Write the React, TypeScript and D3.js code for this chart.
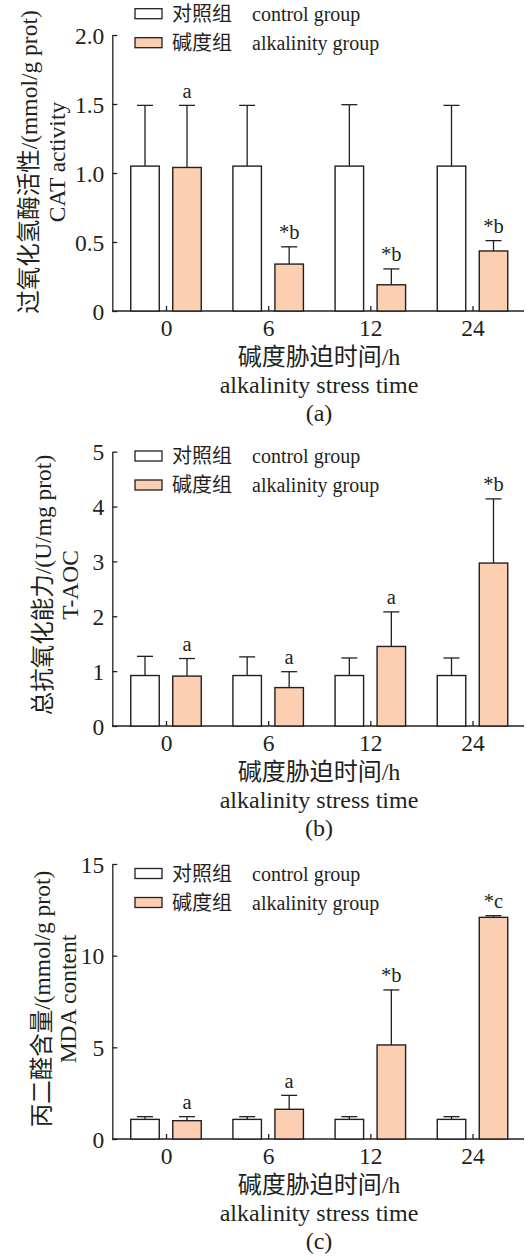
import React, { useEffect, useRef } from 'react';
import * as d3 from 'd3';

const times = ['0', '6', '12', '24'];

const catControl = [1.05, 1.05, 1.05, 1.05];
const catControlErr = [1.49, 1.49, 1.495, 1.49];
const catAlk = [1.04, 0.34, 0.19, 0.435];
const catAlkErr = [1.49, 0.465, 0.305, 0.51];
const catMarks = ['a', '*b', '*b', '*b'];
const catTicks = [0, 0.5, 1, 1.5, 2];

const aocControl = [0.92, 0.92, 0.92, 0.92];
const aocControlErr = [1.27, 1.26, 1.24, 1.24];
const aocAlk = [0.91, 0.7, 1.45, 2.97];
const aocAlkErr = [1.23, 0.99, 2.08, 4.14];
const aocMarks = ['a', 'a', 'a', '*b'];
const aocTicks = [0, 1, 2, 3, 4, 5];

const mdaControl = [1.07, 1.07, 1.07, 1.07];
const mdaControlErr = [1.22, 1.22, 1.22, 1.22];
const mdaAlk = [1.0, 1.62, 5.13, 12.09];
const mdaAlkErr = [1.22, 2.38, 8.13, 12.18];
const mdaMarks = ['a', 'a', '*b', '*c'];
const mdaTicks = [0, 5, 10, 15];

const FONT = '"Liberation Serif", "Times New Roman", "Noto Sans CJK SC", serif';
const INK = '#231f20';
const PEACH = '#fccfb3';

const panels = [
  {
    bottom: 311, top: 35, max: 2, ticks: catTicks, fmt: (d: number) => (d === 0 ? '0' : d.toFixed(1)),
    control: catControl, controlErr: catControlErr, alk: catAlk, alkErr: catAlkErr, marks: catMarks,
    legendDy: -21.3, label1: '过氧化氢酶活性/(mmol/g prot)', label2: 'CAT activity', lx1: 37, lx2: 65, ly: 162,
    tag: '(a)',
  },
  {
    bottom: 726, top: 451.7, max: 5, ticks: aocTicks, fmt: (d: number) => String(d),
    control: aocControl, controlErr: aocControlErr, alk: aocAlk, alkErr: aocAlkErr, marks: aocMarks,
    legendDy: 4.3, label1: '总抗氧化能力/(U/mg prot)', label2: 'T-AOC', lx1: 51, lx2: 78, ly: 585,
    tag: '(b)',
  },
  {
    bottom: 1139, top: 864, max: 15, ticks: mdaTicks, fmt: (d: number) => String(d),
    control: mdaControl, controlErr: mdaControlErr, alk: mdaAlk, alkErr: mdaAlkErr, marks: mdaMarks,
    legendDy: 9.5, label1: '丙二醛含量/(mmol/g prot)', label2: 'MDA content', lx1: 50, lx2: 76, ly: 999,
    tag: '(c)',
  },
];

const App: React.FC = () => {
  const svgRef = useRef<SVGSVGElement>(null);

  useEffect(() => {
    if (!svgRef.current) return;
    const svg = d3.select(svgRef.current);
    svg.selectAll('*').remove();

    const axisX = 112.3;
    const axisEnd = 524;
    const x = d3.scalePoint<string>().domain(times).range([166, 472.5]);
    const barW = 28.5;
    const off = 21;
    const cap = 8;

    panels.forEach((p) => {
      const g = svg.append('g');
      const y = d3.scaleLinear().domain([0, p.max]).range([p.bottom, p.top]);

      // y axis
      const ya = g.append('g')
        .attr('transform', `translate(${axisX},0)`)
        .call(d3.axisLeft(y).tickValues(p.ticks).tickFormat((d) => p.fmt(d as number)).tickSizeInner(-5).tickSizeOuter(0).tickPadding(8));
      ya.attr('font-family', FONT).attr('font-size', 23.5);
      ya.selectAll('path, line').attr('stroke', INK).attr('stroke-width', 1.3);
      ya.selectAll('text').attr('fill', INK).attr('dy', '0.35em');

      // x axis
      const xa = g.append('g')
        .attr('transform', `translate(0,${p.bottom})`)
        .call(d3.axisBottom(x).tickSizeInner(-5).tickSizeOuter(0));
      xa.select('.domain').remove();
      xa.attr('font-family', FONT).attr('font-size', 23.5);
      xa.selectAll('line').attr('stroke', INK).attr('stroke-width', 1.3);
      xa.selectAll('text').attr('fill', INK).attr('y', 25).attr('dy', 0);
      g.append('line')
        .attr('x1', axisX).attr('x2', axisEnd)
        .attr('y1', p.bottom).attr('y2', p.bottom)
        .attr('stroke', INK).attr('stroke-width', 1.3);

      const series = [
        { vals: p.control, errs: p.controlErr, dx: -off, fill: '#ffffff' },
        { vals: p.alk, errs: p.alkErr, dx: off, fill: PEACH },
      ];

      series.forEach((s) => {
        // error bars (upper only)
        const eb = g.append('g').attr('stroke', INK).attr('stroke-width', 1.3);
        times.forEach((t, i) => {
          const cx = (x(t) as number) + s.dx;
          eb.append('line').attr('x1', cx).attr('x2', cx).attr('y1', y(s.vals[i])).attr('y2', y(s.errs[i]));
          eb.append('line').attr('x1', cx - cap).attr('x2', cx + cap).attr('y1', y(s.errs[i])).attr('y2', y(s.errs[i]));
        });
        g.append('g').selectAll('rect').data(s.vals).join('rect')
          .attr('x', (_, i) => (x(times[i]) as number) + s.dx - barW / 2)
          .attr('y', (d) => y(d))
          .attr('width', barW)
          .attr('height', (d) => p.bottom - y(d))
          .attr('fill', s.fill)
          .attr('stroke', INK)
          .attr('stroke-width', 1.4);
      });

      // significance marks
      g.append('g').selectAll('text').data(p.marks).join('text')
        .attr('x', (_, i) => (x(times[i]) as number) + off)
        .attr('y', (_, i) => y(p.alkErr[i]) - 7.5)
        .attr('text-anchor', 'middle')
        .attr('font-family', FONT).attr('font-size', 20.5).attr('fill', INK)
        .text((d) => d);

      // legend
      const legend = [
        { fill: '#ffffff', zh: '对照组', en: 'control group' },
        { fill: PEACH, zh: '碱度组', en: 'alkalinity group' },
      ];
      legend.forEach((l, i) => {
        const cy = p.top + p.legendDy + i * 29;
        g.append('rect').attr('x', 135).attr('y', cy - 5).attr('width', 27).attr('height', 10)
          .attr('fill', l.fill).attr('stroke', INK).attr('stroke-width', 1.3);
        g.append('text').attr('x', 172).attr('y', cy + 7)
          .attr('font-family', FONT).attr('font-size', 20).attr('fill', INK).text(l.zh);
        g.append('text').attr('x', 252).attr('y', cy + 7)
          .attr('font-family', FONT).attr('font-size', 20).attr('fill', INK).text(l.en);
      });

      // y axis title
      [
        { t: p.label1, lx: p.lx1 },
        { t: p.label2, lx: p.lx2 },
      ].forEach((l) => {
        g.append('text')
          .attr('transform', `translate(${l.lx},${p.ly}) rotate(-90)`)
          .attr('text-anchor', 'middle')
          .attr('font-family', FONT).attr('font-size', 23.5).attr('fill', INK)
          .text(l.t);
      });

      // x axis title and panel tag
      const cxTitle = 319;
      [
        { t: '碱度胁迫时间/h', dy: 54 },
        { t: 'alkalinity stress time', dy: 82 },
        { t: p.tag, dy: 110 },
      ].forEach((l) => {
        g.append('text')
          .attr('x', cxTitle).attr('y', p.bottom + l.dy)
          .attr('text-anchor', 'middle')
          .attr('font-family', FONT).attr('font-size', 24).attr('fill', INK)
          .text(l.t);
      });
    });
  }, []);

  return (
    <svg
      ref={svgRef}
      width={526}
      height={1260}
      viewBox="0 0 526 1260"
      style={{ position: 'absolute', left: 0, top: 0, background: '#ffffff' }}
    />
  );
};

export default App;
